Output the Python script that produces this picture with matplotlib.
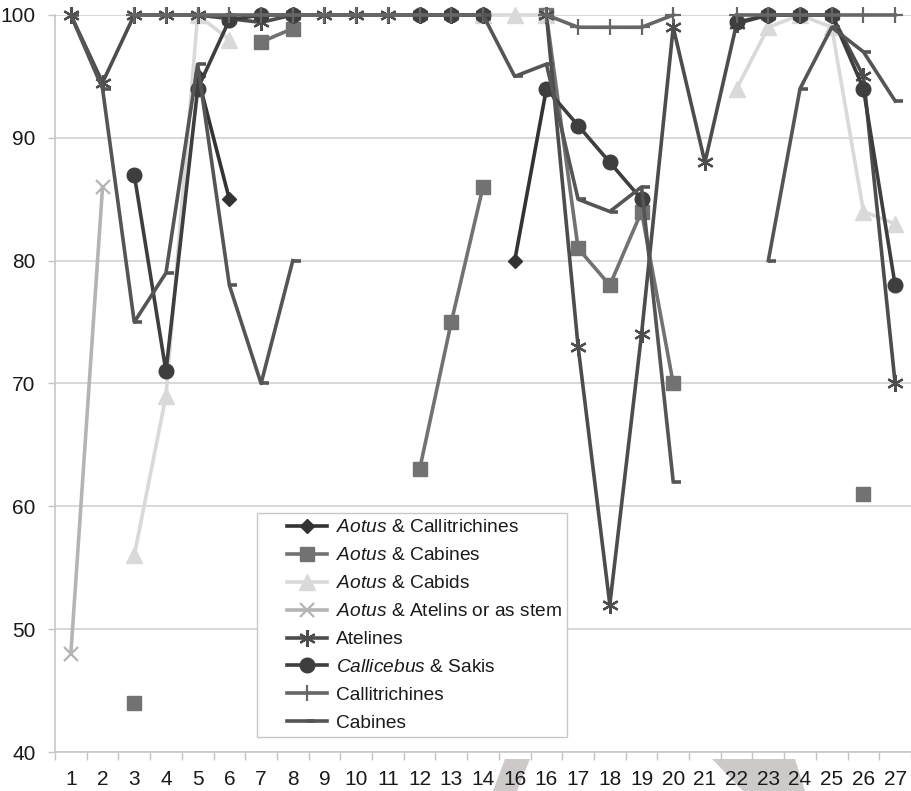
import numpy as np
import matplotlib
matplotlib.use('Agg')
import matplotlib.pyplot as plt
from matplotlib.path import Path
from matplotlib.patches import Polygon, Rectangle

plt.rcParams['font.family'] = ['Liberation Sans', 'DejaVu Sans']
plt.rcParams['mathtext.fontset'] = 'custom'
plt.rcParams['mathtext.rm'] = 'Liberation Sans'
plt.rcParams['mathtext.it'] = 'Liberation Sans:italic'

nan = np.nan

# ---------------- data ----------------
x_pos = list(range(1, 28))
x_labels = ['1', '2', '3', '4', '5', '6', '7', '8', '9', '10', '11', '12', '13', '14',
            '16', '16', '17', '18', '19', '20', '21', '22', '23', '24', '25', '26', '27']
y_ticks = [40, 50, 60, 70, 80, 90, 100]

aotus_callitrichines = [nan, nan, nan, nan, 95, 85, nan, nan, nan, nan, nan, nan, nan, nan,
                        80, 94, nan, nan, nan, nan, nan, nan, nan, nan, nan, nan, nan]
aotus_cabines = [nan, nan, 44, nan, nan, nan, 97.8, 98.9, nan, nan, nan, 63, 75, 86,
                 nan, 100, 81, 78, 84, 70, nan, nan, nan, nan, nan, 61, nan]
aotus_cabids = [nan, nan, 56, 69, 100, 98, nan, nan, nan, nan, nan, nan, nan, 100,
                100, 100, nan, nan, nan, nan, nan, 94, 99, 100, 99, 84, 83]
aotus_atelins = [48, 86, nan, nan, nan, nan, nan, nan, nan, nan, nan, nan, nan, nan,
                 nan, nan, nan, nan, nan, nan, nan, nan, nan, nan, nan, nan, nan]
atelines = [100, 94.5, 100, 100, 100, 99.7, 99.4, 100, 100, 100, 100, 100, 100, 100,
            nan, 100, 73, 52, 74, 99, 88, 99.3, 100, 100, 100, 95, 70]
callicebus_sakis = [nan, nan, 87, 71, 94, 99.6, 100, 100, nan, nan, nan, 100, 100, 100,
                    nan, 94, 91, 88, 85, nan, nan, 99.4, 100, 100, 100, 94, 78]
callitrichines = [nan, nan, 100, 100, 100, 100, 100, 100, 100, 100, 100, 100, 100, 100,
                  nan, 100, 99, 99, 99, 100, nan, 100, 100, 100, 100, 100, 100]
cabines = [100, 94, 75, 79, 96, 78, 70, 80, nan, nan, nan, nan, nan, 100,
           95, 96, 85, 84, 86, 62, nan, nan, 80, 94, 99, 97, 93]

labels = [r'$\it{Aotus}$ & Callitrichines',
          r'$\it{Aotus}$ & Cabines',
          r'$\it{Aotus}$ & Cabids',
          r'$\it{Aotus}$ & Atelins or as stem',
          'Atelines',
          r'$\it{Callicebus}$ & Sakis',
          'Callitrichines',
          'Cabines']

# ---------------- styles ----------------
dash = Path([(0, 0), (1, 0)], [Path.MOVETO, Path.LINETO])
styles = [
    dict(color='#333333', marker='D', ms=7.5),
    dict(color='#727272', marker='s', ms=10.5),
    dict(color='#d9d9d9', marker='^', ms=11),
    dict(color='#b4b4b4', marker='x', ms=10, mew=1.6),
    dict(color='#4d4d4d', marker=(6, 2, 0), ms=12, mew=1.6),
    dict(color='#3e3e3e', marker='o', ms=10.5),
    dict(color='#666666', marker='+', ms=12, mew=1.6),
    dict(color='#555555', marker=dash, ms=11, mew=2.6),
]
series = [aotus_callitrichines, aotus_cabines, aotus_cabids, aotus_atelins,
          atelines, callicebus_sakis, callitrichines, cabines]

W, H = 911, 791
fig = plt.figure(figsize=(W / 100, H / 100), dpi=100)
ax = fig.add_axes([55 / W, (H - 752) / H, (W - 55) / W, 737 / H])

handles = []
for vals, st, lab in zip(series, styles, labels):
    st = dict(st)
    col = st.pop('color')
    mew = st.pop('mew', 1.0)
    ln, = ax.plot(x_pos, vals, color=col, lw=2.6, mec=col, mfc=col, mew=mew,
                  label=lab, clip_on=False, **st)
    handles.append(ln)

ax.set_xlim(0.5, 0.5 + 856 / 31.92)
ax.set_ylim(40, 100)
ax.set_yticks(y_ticks)
ax.set_xticks(x_pos)
ax.set_xticklabels(x_labels)
ax.set_xticks(np.arange(0.5, 28, 1.0), minor=True)
ax.tick_params(axis='x', which='major', length=0, pad=13, labelsize=15, colors='#1a1a1a')
ax.tick_params(axis='x', which='minor', length=6, width=1, color='#c4c4c4')
ax.tick_params(axis='y', which='major', length=5, width=1, color='#c4c4c4',
               pad=9, labelsize=15, labelcolor='#1a1a1a')
ax.grid(axis='y', color='#d2d2d2', lw=1.2)
ax.set_axisbelow(True)
for s in ['top', 'right']:
    ax.spines[s].set_visible(False)
for s in ['left', 'bottom']:
    ax.spines[s].set_color('#c8c8c8')
    ax.spines[s].set_linewidth(1.2)

# legend frame and legend
frame = Rectangle((257 / W, 1 - 737 / H), 310 / W, 224 / H, transform=fig.transFigure,
                  facecolor='white', edgecolor='#c8c8c8', lw=1.0, zorder=4.5, clip_on=False)
ax.add_patch(frame)
fs = 13.8
fs_px = fs * 100 / 72
leg = ax.legend(handles=handles, loc='upper left', bbox_to_anchor=(287 / W, 1 - 519 / H),
                bbox_transform=fig.transFigure, frameon=False, fontsize=fs,
                borderpad=0, borderaxespad=0, handlelength=40 / fs_px,
                handletextpad=9 / fs_px, labelspacing=0.55, numpoints=1)
leg.set_zorder(6)
for t in leg.get_texts():
    t.set_color('#1a1a1a')

# scan artefacts near the x axis labels
for pts in ([(505, 759), (530, 759), (517, 791), (493, 791)],
            [(712, 759), (795, 759), (805, 791), (743, 791)]):
    poly = Polygon([(px / W, 1 - py / H) for px, py in pts], closed=True,
                   transform=fig.transFigure, facecolor='#cdc9c9', edgecolor='none', zorder=-1)
    fig.add_artist(poly)

fig.savefig('out.png', dpi=100)
